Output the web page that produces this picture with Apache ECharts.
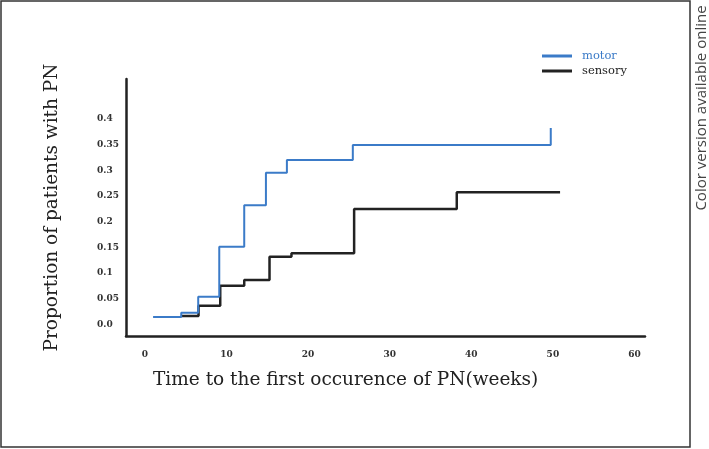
<!DOCTYPE html>
<html>
<head>
<meta charset="utf-8">
<script src="https://cdn.jsdelivr.net/npm/echarts@6/dist/echarts.min.js"></script>
<style>html,body{margin:0;padding:0;background:#fff;}#c{width:709px;height:449px;}</style>
</head>
<body>
<div id="c"></div>
<script>
// Data (time in weeks, proportion of patients with PN)
const motorX   = [1.0, 4.45, 6.53, 9.11, 12.17, 14.83, 17.40, 25.48, 49.74];
const motorY   = [0.0144, 0.0228, 0.0539, 0.151, 0.232, 0.295, 0.320, 0.349, 0.382];
const sensoryX = [4.41, 6.57, 9.23, 12.17, 15.27, 17.96, 25.64, 38.22, 50.88];
const sensoryY = [0.0163, 0.0364, 0.0753, 0.0864, 0.1317, 0.1383, 0.2245, 0.257, 0.257];
const xTickValues = [0, 10, 20, 30, 40, 50, 60];
const xTickLabels = ['0', '10', '20', '30', '40', '50', '60'];
const yTickValues = [0, 0.05, 0.1, 0.15, 0.2, 0.25, 0.3, 0.35, 0.4];
const yTickLabels = ['0.0', '0.05', '0.1', '0.15', '0.2', '0.25', '0.3', '0.35', '0.4'];
const seriesNames = ['motor', 'sensory'];

const BLUE = '#3b7bc8';
const DARK = '#222222';
const SERIF = 'DejaVu Serif';

function zip(xs, ys) { return xs.map((x, i) => [x, ys[i]]); }
function labelFor(vals, labs, v) {
  let best = 0;
  for (let i = 1; i < vals.length; i++) if (Math.abs(vals[i] - v) < Math.abs(vals[best] - v)) best = i;
  return labs[best];
}

const chart = echarts.init(document.getElementById('c'), null, { renderer: 'canvas' });
chart.setOption({
  backgroundColor: '#ffffff',
  animation: false,
  title: {
    text: 'Time to the first occurence of PN(weeks)',
    left: 153, top: 371, padding: 0,
    textStyle: { fontFamily: SERIF, fontSize: 18.5, fontWeight: 'normal', color: DARK }
  },
  legend: {
    orient: 'vertical', left: 542, top: 50, padding: 0,
    itemWidth: 30, itemHeight: 3, itemGap: 3, icon: 'rect',
    textStyle: { fontFamily: SERIF, fontSize: 11.5, color: DARK, padding: [0, 0, 0, 5] },
    data: [
      { name: seriesNames[0], textStyle: { color: BLUE } },
      { name: seriesNames[1], textStyle: { color: DARK } }
    ]
  },
  grid: { left: 126, right: 64, top: 79, bottom: 113, containLabel: false },
  xAxis: {
    type: 'value', min: -2.32, max: 61.29,
    splitLine: { show: false },
    axisLine: { show: true, onZero: false, lineStyle: { color: DARK, width: 2.5 } },
    axisTick: { show: false },
    axisLabel: {
      customValues: xTickValues, margin: 14,
      fontFamily: SERIF, fontSize: 9, fontWeight: 'bold', color: '#333',
      formatter: v => labelFor(xTickValues, xTickLabels, v)
    }
  },
  yAxis: {
    type: 'value', min: -0.0226, max: 0.4774,
    name: 'Proportion of patients with PN', nameLocation: 'middle', nameGap: 64,
    nameTextStyle: { fontFamily: SERIF, fontSize: 18.5, color: DARK },
    splitLine: { show: false },
    axisLine: { show: true, onZero: false, lineStyle: { color: DARK, width: 2.5 } },
    axisTick: { show: false },
    axisLabel: {
      customValues: yTickValues, margin: 29, align: 'left',
      fontFamily: SERIF, fontSize: 9, fontWeight: 'bold', color: '#333',
      formatter: v => labelFor(yTickValues, yTickLabels, v)
    }
  },
  series: [
    { name: seriesNames[0], type: 'line', step: 'end', symbol: 'none', z: 3,
      color: BLUE, lineStyle: { color: BLUE, width: 2 }, data: zip(motorX, motorY) },
    { name: seriesNames[1], type: 'line', step: 'end', symbol: 'none', z: 2,
      color: DARK, lineStyle: { color: DARK, width: 2.5 }, data: zip(sensoryX, sensoryY) }
  ],
  graphic: [
    { type: 'rect', shape: { x: 1, y: 1, width: 689, height: 446 },
      style: { fill: 'none', stroke: '#333', lineWidth: 1.5 }, silent: true },
    { type: 'text', x: 702, y: 108, rotation: Math.PI / 2,
      style: { text: 'Color version available online', font: '15px "Open Sans"',
        fill: '#444', align: 'center', verticalAlign: 'middle' } }
  ]
});
</script>
</body>
</html>
